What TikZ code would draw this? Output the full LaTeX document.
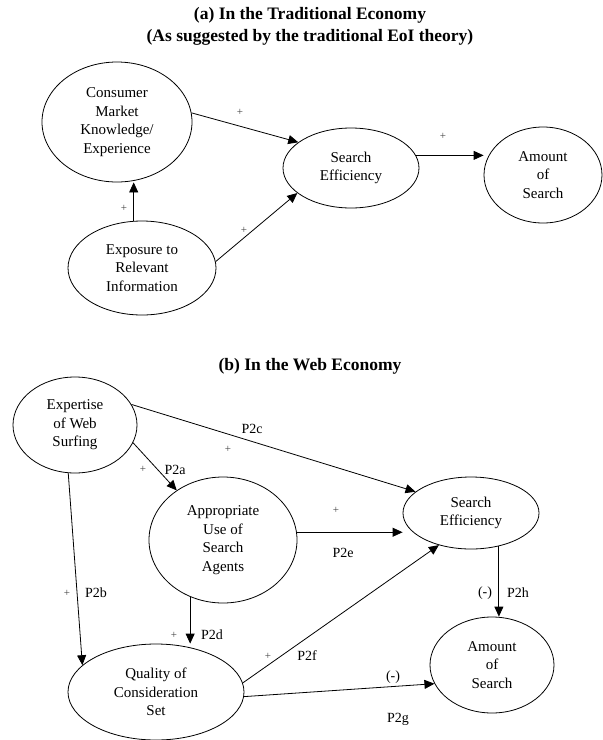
\documentclass[tikz,border=0pt]{standalone}
\usepackage{fontspec}
\setmainfont{Liberation Serif}
\usetikzlibrary{shapes.geometric,arrows.meta}

\begin{document}
\begin{tikzpicture}[x=1pt,y=-1pt]
  \tikzset{
    VarStyle/.style = {ellipse, draw, line width=0.8pt, inner sep=0pt,
      align=center, font=\fontsize{15}{18.5}\selectfont},
    EdgeStyle/.style = {line width=0.8pt, -{Triangle[length=10pt,width=9pt]}},
    SignStyle/.style = {font=\fontsize{11}{13}\selectfont, text=black!75},
    PropStyle/.style = {font=\fontsize{14}{16}\selectfont},
    TitleStyle/.style = {align=center, font=\fontsize{17.5}{22}\selectfont\bfseries}
  }
  \useasboundingbox (0,0) rectangle (603,740);

  % (a) traditional economy
  \node[TitleStyle] (TA) at (310,26)
    {(a) In the Traditional Economy\\(As suggested by the traditional EoI theory)};
  \node[VarStyle, minimum width=150pt, minimum height=120pt] (CMK) at (117,122)
    {Consumer\\Market\\Knowledge/\\Experience};
  \node[VarStyle, minimum width=148pt, minimum height=94pt] (ERI) at (142,268)
    {Exposure to\\Relevant\\Information};
  \node[VarStyle, minimum width=136pt, minimum height=80pt] (SEa) at (351,168)
    {Search\\Efficiency};
  \node[VarStyle, minimum width=118pt, minimum height=96pt] (AOSa) at (543,175)
    {Amount\\of\\Search};

  \draw[EdgeStyle] (CMK.7) -- (SEa.154);
  \draw[EdgeStyle] (SEa.11) -- (SEa.11 -| AOSa.west);
  \draw[EdgeStyle] (ERI.100) -- (ERI.100 |- CMK.south);
  \draw[EdgeStyle] (ERI.5) -- (SEa.205);

  \node[SignStyle] (sa1) at (240,112) {+};
  \node[SignStyle] (sa2) at (443,136) {+};
  \node[SignStyle] (sa3) at (124,208) {+};
  \node[SignStyle] (sa4) at (244,230) {+};

  % (b) web economy
  \node[TitleStyle] (TB) at (310,366) {(b) In the Web Economy};
  \node[VarStyle, minimum width=124pt, minimum height=96pt] (EWS) at (75,425)
    {Expertise\\of Web\\Surfing};
  \node[VarStyle, minimum width=148pt, minimum height=126pt] (USA) at (223,540)
    {Appropriate\\Use of\\Search\\Agents};
  \node[VarStyle, minimum width=136pt, minimum height=72pt] (SEb) at (471,513)
    {Search\\Efficiency};
  \node[VarStyle, minimum width=124pt, minimum height=96pt] (AOSb) at (492,665)
    {Amount\\of\\Search};
  \node[VarStyle, minimum width=176pt, minimum height=96pt] (QCS) at (156,692)
    {Quality of\\Consideration\\Set};

  \draw[EdgeStyle] (EWS.20) -- (SEb.159);
  \draw[EdgeStyle] (EWS.-17) -- (USA.133);
  \draw[EdgeStyle] (EWS.-98) -- (QCS.160);
  \draw[EdgeStyle] (USA.6) -- (USA.6 -| SEb.west);
  \draw[EdgeStyle] (USA.240) -- (USA.240 |- QCS.north);
  \draw[EdgeStyle] (QCS.6) -- (SEb.225);
  \draw[EdgeStyle] (QCS.-3) -- (AOSb.198);
  \draw[EdgeStyle] (SEb.-50) -- (SEb.-50 |- AOSb.north);

  \node[PropStyle] (P2c) at (252,429) {P2c};
  \node[SignStyle] (sc) at (228,449) {+};
  \node[SignStyle] (sa) at (143,469) {+};
  \node[PropStyle] (P2a) at (175,470) {P2a};
  \node[SignStyle] (sb) at (67,593) {+};
  \node[PropStyle] (P2b) at (96,593) {P2b};
  \node[SignStyle] (se) at (336,510) {+};
  \node[PropStyle] (P2e) at (343,553) {P2e};
  \node[SignStyle] (sd) at (174,635) {+};
  \node[PropStyle] (P2d) at (212,635) {P2d};
  \node[SignStyle] (sf) at (268,656) {+};
  \node[PropStyle] (P2f) at (307,656) {P2f};
  \node[PropStyle] (sg) at (393,677) {(-)};
  \node[PropStyle] (P2g) at (398,719) {P2g};
  \node[PropStyle] (sh) at (485,593) {(-)};
  \node[PropStyle] (P2h) at (518,593) {P2h};
\end{tikzpicture}
\end{document}
